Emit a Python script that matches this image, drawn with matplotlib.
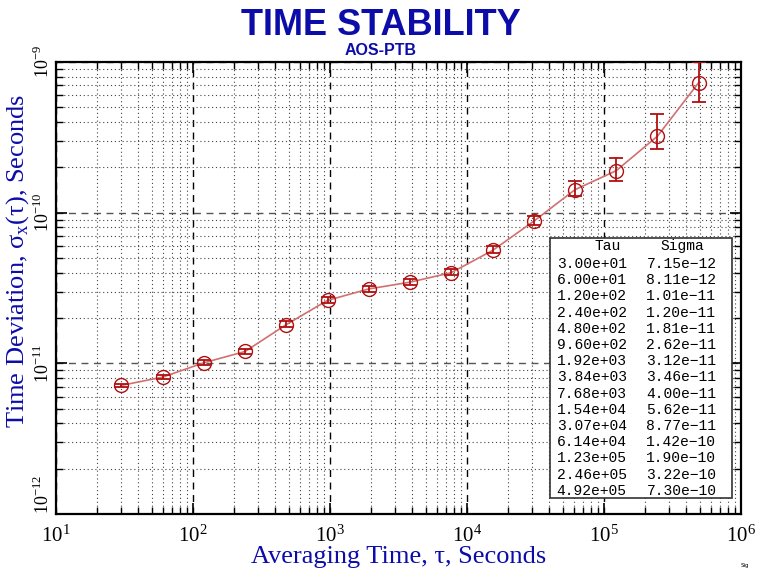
import matplotlib as mpl
import matplotlib.pyplot as plt
import numpy as np
from matplotlib.ticker import LogLocator, NullFormatter

mpl.rcParams.update({
    "font.family": "serif",
    "font.serif": ["Liberation Serif", "DejaVu Serif"],
    "axes.linewidth": 1.6,
    "mathtext.fontset": "custom",
    "mathtext.rm": "Liberation Serif",
})

BLUE = "#0c0ca8"
RED = "#b01010"
LRED = "#d07070"

tau = [3.00e1, 6.00e1, 1.20e2, 2.40e2, 4.80e2, 9.60e2, 1.92e3, 3.84e3,
       7.68e3, 1.54e4, 3.07e4, 6.14e4, 1.23e5, 2.46e5, 4.92e5]
sigma = [7.15e-12, 8.11e-12, 1.01e-11, 1.20e-11, 1.81e-11, 2.62e-11,
         3.12e-11, 3.46e-11, 4.00e-11, 5.62e-11, 8.77e-11, 1.42e-10,
         1.90e-10, 3.22e-10, 7.30e-10]
err_lo = [0.15e-12, 0.2e-12, 0.3e-12, 0.4e-12, 0.7e-12, 1.0e-12,
          1.2e-12, 1.4e-12, 1.6e-12, 2.5e-12, 5.0e-12, 1.2e-11,
          2.7e-11, 5.8e-11, 1.85e-10]
err_hi = [0.2e-12, 0.25e-12, 0.4e-12, 0.5e-12, 0.9e-12, 1.3e-12,
          1.6e-12, 1.9e-12, 2.2e-12, 3.5e-12, 8.0e-12, 2.1e-11,
          4.2e-11, 1.28e-10, 2.7e-10]
yticks = [1e-12, 1e-11, 1e-10, 1e-9]
ytick_labels = ["$10^{-12}$", "$10^{-11}$", "$10^{-10}$", "$10^{-9}$"]

fig = plt.figure(figsize=(7.61, 5.79), dpi=100)
ax = fig.add_axes([0.0736, 0.112, 0.900, 0.781])

ax.set_xscale("log")
ax.set_yscale("log")
ax.set_xlim(1e1, 1e6)
ax.set_ylim(1e-12, 1e-9)

ax.xaxis.set_minor_locator(LogLocator(base=10, subs=np.arange(2, 10)))
ax.yaxis.set_minor_locator(LogLocator(base=10, subs=np.arange(2, 10)))
ax.xaxis.set_minor_formatter(NullFormatter())
ax.yaxis.set_minor_formatter(NullFormatter())
ax.set_yticks(yticks, labels=ytick_labels)

ax.grid(which="major", axis="x", color="black", ls=(0, (5, 4)), lw=1.0)
ax.grid(which="major", axis="y", color="#555555", ls=(0, (5, 4)), lw=1.0)
ax.grid(which="minor", color="#444444", ls=(0, (1, 2.5)), lw=0.8)

ax.tick_params(which="both", direction="in", top=True, right=True)
ax.tick_params(which="major", length=8, width=1.2, labelsize=15)
ax.tick_params(which="minor", length=5, width=1.0)
ax.tick_params(axis="x", pad=8)
ax.tick_params(axis="y", labelsize=13, pad=2)
for lab in ax.get_yticklabels():
    lab.set_rotation(90)
    lab.set_va("center")
ax.get_yticklabels()[0].set_va("bottom")

ax.plot(tau, sigma, color=LRED, lw=1.2, zorder=3)
ax.errorbar(tau, sigma, yerr=[err_lo, err_hi], fmt="none", ecolor=RED,
            elinewidth=1.3, capsize=5, capthick=1.3, zorder=4)
ax.plot(tau, sigma, ls="none", marker="o", ms=10, mfc="none", mec=RED,
        mew=1.0, zorder=5)

# value table
box = plt.Rectangle((0.721, 0.036), 0.266, 0.575, transform=ax.transAxes,
                    facecolor="white", edgecolor="#333333", lw=1.2, zorder=6)
ax.add_patch(box)
mono = ["Liberation Mono", "DejaVu Sans Mono"]
x1, x2 = 0.766, 0.867
ax.text(x1 + 0.02, 0.592, "Tau", transform=ax.transAxes, fontsize=10.5,
        family=mono, va="center", zorder=7)
ax.text(x2 + 0.015, 0.592, "Sigma", transform=ax.transAxes, fontsize=10.5,
        family=mono, va="center", zorder=7)
for i, (t, s) in enumerate(zip(tau, sigma)):
    yy = 0.553 - i * 0.0358
    ax.text(x1 - 0.035, yy, f"{t:.2e}", transform=ax.transAxes,
            fontsize=10.5, family=mono, va="center", zorder=7)
    ax.text(x2 - 0.005, yy, f"{s:.2e}".replace("-", "\u2212"),
            transform=ax.transAxes, fontsize=10.5, family=mono,
            va="center", zorder=7)

ax.set_xlabel("Averaging Time, \u03c4, Seconds", color=BLUE, fontsize=19,
              labelpad=0)
ax.set_ylabel("Time Deviation, \u03c3$_\\mathrm{x}$(\u03c4), Seconds",
              color=BLUE, fontsize=19)
ax.yaxis.set_label_coords(-0.036, 0.56)

fig.text(0.5, 0.956, "TIME STABILITY", ha="center", va="center",
         color=BLUE, fontsize=26, weight="bold",
         family=["Liberation Sans", "DejaVu Sans"])
fig.text(0.5, 0.912, "AOS-PTB", ha="center", va="center", color=BLUE,
         fontsize=11.5, weight="bold", family=["Liberation Sans", "DejaVu Sans"])
fig.text(0.985, 0.024, "Sig", ha="right", va="center", fontsize=4,
         family=["DejaVu Sans"])

fig.savefig("out.png", dpi=100)
